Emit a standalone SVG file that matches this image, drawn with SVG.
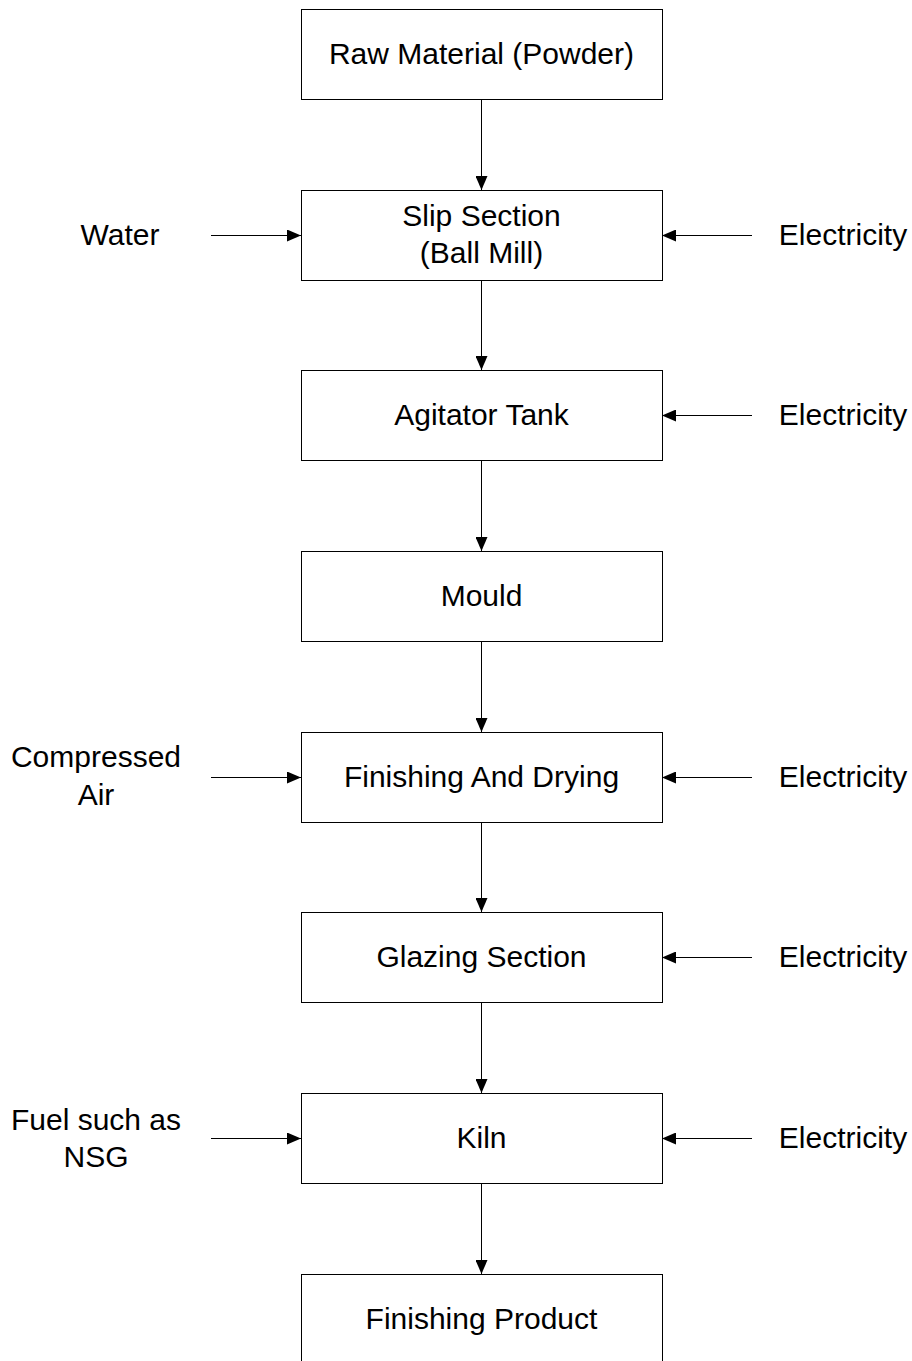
<svg xmlns="http://www.w3.org/2000/svg" width="912" height="1361" viewBox="0 0 912 1361">
<style>
.box{fill:#fff;stroke:#000;stroke-width:1}
.t{font-family:"Liberation Sans",Arial,sans-serif;font-size:30px;fill:#000;text-anchor:middle}
.c{stroke:#000;stroke-width:1;fill:none;marker-end:url(#ah)}
</style>
<defs>
<marker id="ah" viewBox="0 0 14 12" refX="14" refY="6" markerWidth="14" markerHeight="12" markerUnits="userSpaceOnUse" orient="auto">
<path d="M0,0 L14,6 L0,12 Z" fill="#000"/>
</marker>
</defs>
<rect width="912" height="1361" fill="#fff"/>
<g id="connectors">
<line class="c" x1="481.5" y1="99" x2="481.5" y2="190"/>
<line class="c" x1="481.5" y1="280" x2="481.5" y2="370"/>
<line class="c" x1="481.5" y1="460" x2="481.5" y2="551"/>
<line class="c" x1="481.5" y1="641" x2="481.5" y2="732"/>
<line class="c" x1="481.5" y1="822" x2="481.5" y2="912"/>
<line class="c" x1="481.5" y1="1002" x2="481.5" y2="1093"/>
<line class="c" x1="481.5" y1="1183" x2="481.5" y2="1274"/>
<line class="c" x1="211" y1="235.5" x2="301" y2="235.5"/>
<line class="c" x1="752" y1="235.5" x2="662" y2="235.5"/>
<line class="c" x1="752" y1="415.5" x2="662" y2="415.5"/>
<line class="c" x1="211" y1="777.5" x2="301" y2="777.5"/>
<line class="c" x1="752" y1="777.5" x2="662" y2="777.5"/>
<line class="c" x1="752" y1="957.5" x2="662" y2="957.5"/>
<line class="c" x1="211" y1="1138.5" x2="301" y2="1138.5"/>
<line class="c" x1="752" y1="1138.5" x2="662" y2="1138.5"/>
</g>
<g id="n1"><rect class="box" x="301.5" y="9.5" width="361" height="90"/><text class="t" x="481.5" y="64">Raw Material (Powder)</text></g>
<g id="n2"><rect class="box" x="301.5" y="190.5" width="361" height="90"/><text class="t" x="481.5" y="226">Slip Section</text><text class="t" x="481.5" y="263">(Ball Mill)</text></g>
<g id="n3"><rect class="box" x="301.5" y="370.5" width="361" height="90"/><text class="t" x="481.5" y="425">Agitator Tank</text></g>
<g id="n4"><rect class="box" x="301.5" y="551.5" width="361" height="90"/><text class="t" x="481.5" y="606">Mould</text></g>
<g id="n5"><rect class="box" x="301.5" y="732.5" width="361" height="90"/><text class="t" x="481.5" y="787">Finishing And Drying</text></g>
<g id="n6"><rect class="box" x="301.5" y="912.5" width="361" height="90"/><text class="t" x="481.5" y="967">Glazing Section</text></g>
<g id="n7"><rect class="box" x="301.5" y="1093.5" width="361" height="90"/><text class="t" x="481.5" y="1148">Kiln</text></g>
<g id="n8"><rect class="box" x="301.5" y="1274.5" width="361" height="90"/><text class="t" x="481.5" y="1329">Finishing Product</text></g>
<g id="water"><text class="t" x="120" y="245">Water</text></g>
<g id="air"><text class="t" x="96" y="767">Compressed</text><text class="t" x="96" y="805">Air</text></g>
<g id="fuel"><text class="t" x="96" y="1130">Fuel such as</text><text class="t" x="96" y="1167">NSG</text></g>
<g id="e1"><text class="t" x="843" y="245">Electricity</text></g>
<g id="e2"><text class="t" x="843" y="425">Electricity</text></g>
<g id="e3"><text class="t" x="843" y="787">Electricity</text></g>
<g id="e4"><text class="t" x="843" y="967">Electricity</text></g>
<g id="e5"><text class="t" x="843" y="1148">Electricity</text></g>
</svg>
